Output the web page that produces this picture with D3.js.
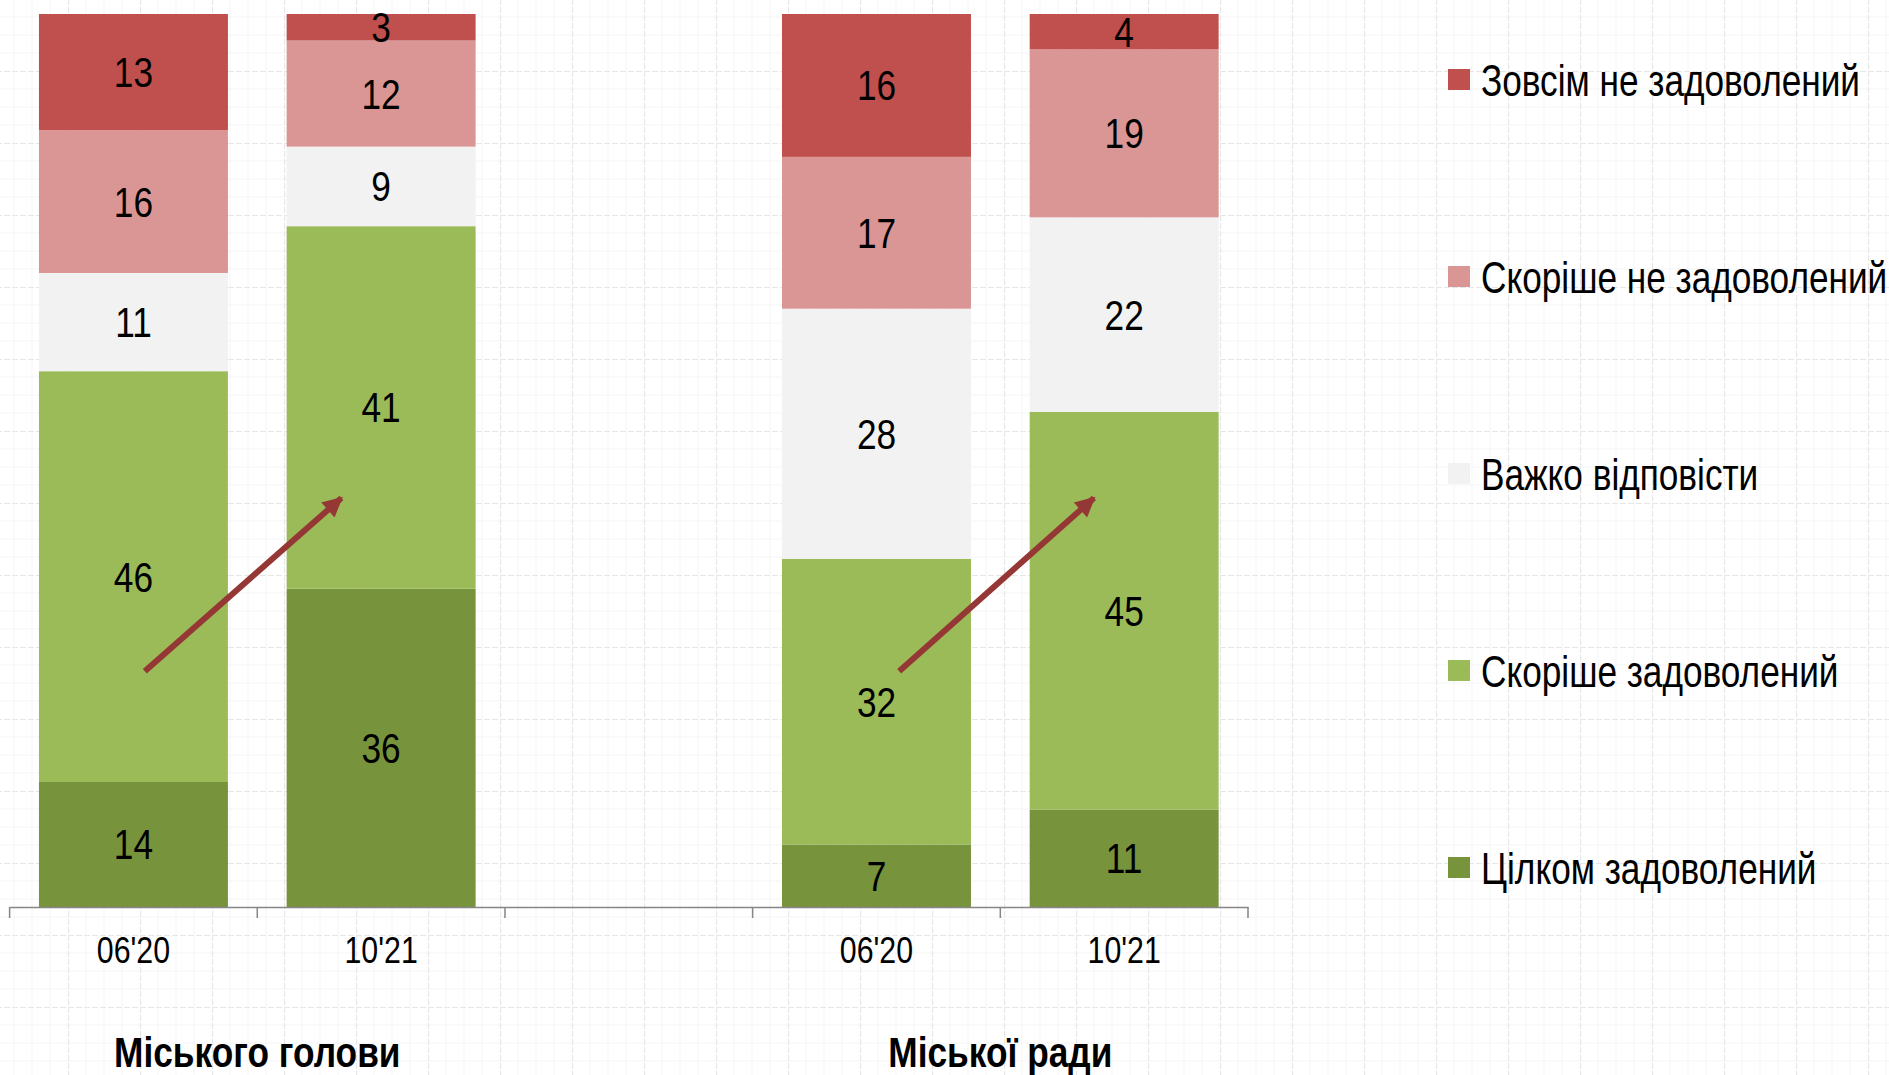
<!DOCTYPE html>
<html>
<head>
<meta charset="utf-8">
<script src="https://cdn.jsdelivr.net/npm/d3@7"></script>
<style>
  body { margin: 0; background: #fff; }
  svg text { font-family: "Liberation Sans Narrow", "Arial Narrow", "Liberation Sans", Arial, sans-serif; fill: #000; }
</style>
</head>
<body>
<svg id="chart" width="1889" height="1075"></svg>
<script>
// --- data ---
var groups = ["Міського голови", "Міської ради"];
var periods = ["06'20", "10'21"];
var seriesNames = ["Цілком задоволений", "Скоріше задоволений", "Важко відповісти", "Скоріше не задоволений", "Зовсім не задоволений"];
var seriesColors = ["#77933c", "#9bbb59", "#f2f2f2", "#d99694", "#c0504d"];

// values per bar: голови 06'20, голови 10'21, ради 06'20, ради 10'21
var fullySatisfied = [14, 36, 7, 11];
var ratherSatisfied = [46, 41, 32, 45];
var hardToSay = [11, 9, 28, 22];
var ratherNotSatisfied = [16, 12, 17, 19];
var notSatisfied = [13, 3, 16, 4];

// arrows: from bar -> to bar, positions as share of bar width / share of height
var arrows = [
	{ from: 0, to: 1, fx0: 0.56, y0: 0.264, fx1: 0.29, y1: 0.458 },
	{ from: 2, to: 3, fx0: 0.62, y0: 0.264, fx1: 0.34, y1: 0.458 }
];

var svg = d3.select("#chart");
var W = 1889, H = 1075;
var NARROW = 0.82;	// no narrow font installed, squeeze the regular one

function narrow(sel, tx, ty, k) {
	sel.attr("x", 0).attr("y", 0)
		.attr("transform", function (d, i) {
			return "translate(" + tx(d, i) + "," + ty(d, i) + ") scale(" + (k || NARROW) + ",1)";
		});
}

// faint paper grid in the background
var defs = svg.append("defs");
var pat = defs.append("pattern")
	.attr("id", "paper")
	.attr("patternUnits", "userSpaceOnUse")
	.attr("width", 72).attr("height", 72)
	.attr("x", -4).attr("y", -1);
pat.append("rect").attr("width", 72).attr("height", 72).attr("fill", "#fff");
[18, 36, 54].forEach(function (p) {
	pat.append("path").attr("d", "M" + p + ",0V72M0," + p + "H72")
		.attr("stroke", "#f5f5f5").attr("stroke-width", 1);
});
pat.append("path").attr("d", "M0.5,0V72M0,0.5H72")
	.attr("stroke", "#e6e6e6").attr("stroke-width", 1.2).attr("stroke-dasharray", "6,2");
svg.append("rect").attr("width", W).attr("height", H).attr("fill", "url(#paper)");

defs.append("marker")
	.attr("id", "head")
	.attr("viewBox", "0 0 10 10")
	.attr("refX", 9).attr("refY", 5)
	.attr("markerUnits", "userSpaceOnUse")
	.attr("markerWidth", 23).attr("markerHeight", 20)
	.attr("orient", "auto")
	.append("path")
	.attr("d", "M0,0L10,5L0,10z")
	.attr("fill", "#953735");

// build rows
var keys = [];
var rows = [];
var labelOf = {};
groups.forEach(function (g, gi) {
	if (gi > 0) keys.push("gap" + gi);
	periods.forEach(function (p, pi) {
		var idx = gi * periods.length + pi;
		var k = g + "|" + p;
		keys.push(k);
		labelOf[k] = p;
		rows.push({
			key: k,
			s0: fullySatisfied[idx],
			s1: ratherSatisfied[idx],
			s2: hardToSay[idx],
			s3: ratherNotSatisfied[idx],
			s4: notSatisfied[idx]
		});
	});
});

var stack = d3.stack()
	.keys(["s0", "s1", "s2", "s3", "s4"])
	.offset(d3.stackOffsetExpand);
var layers = stack(rows);

var x = d3.scaleBand()
	.domain(keys)
	.range([9.6, 1248])
	.paddingInner(0.237)
	.paddingOuter(0.1185);

var y = d3.scaleLinear()
	.domain([0, 1])
	.range([907, 14]);

// bars
var layer = svg.selectAll("g.layer")
	.data(layers)
	.enter().append("g")
	.attr("class", "layer")
	.attr("fill", function (d, i) { return seriesColors[i]; });

layer.selectAll("rect")
	.data(function (d) { return d; })
	.enter().append("rect")
	.attr("x", function (d) { return x(d.data.key); })
	.attr("width", x.bandwidth())
	.attr("y", function (d) { return y(d[1]); })
	.attr("height", function (d) { return y(d[0]) - y(d[1]); });

// value labels
layer.selectAll("text")
	.data(function (d) { var s = d.key; return d.map(function (v) { return { v: v, val: v.data[s] }; }); })
	.enter().append("text")
	.attr("text-anchor", "middle")
	.attr("font-size", 43)
	.text(function (d) { return d.val; })
	.call(narrow,
		function (d) { return x(d.v.data.key) + x.bandwidth() / 2; },
		function (d) { return (y(d.v[0]) + y(d.v[1])) / 2 + 15; });

// x axis
var axis = d3.axisBottom(x)
	.tickSize(0)
	.tickPadding(45)
	.tickFormat(function (k) { return labelOf[k] || ""; });

var axisG = svg.append("g")
	.attr("transform", "translate(0,907)")
	.call(axis);
axisG.select(".domain").attr("stroke", "#868686").attr("stroke-width", 1.5);
axisG.selectAll(".tick text")
	.attr("font-size", 37)
	.attr("dy", "0.3em")
	.attr("fill", "#000")
	.attr("transform", "scale(" + NARROW + ",1)");

// category boundary ticks (Excel style, between the bars)
var bounds = d3.range(keys.length + 1).map(function (i) { return x.range()[0] + i * x.step(); });
axisG.selectAll("line.sep")
	.data(bounds)
	.enter().append("line")
	.attr("class", "sep")
	.attr("x1", function (d) { return d; })
	.attr("x2", function (d) { return d; })
	.attr("y1", 0).attr("y2", 11)
	.attr("stroke", "#868686").attr("stroke-width", 1.5);

// group labels
svg.selectAll("text.group")
	.data(groups)
	.enter().append("text")
	.attr("class", "group")
	.attr("text-anchor", "middle")
	.attr("font-size", 43)
	.attr("font-weight", "bold")
	.text(function (g) { return g; })
	.call(narrow,
		function (g) {
			var first = x(g + "|" + periods[0]);
			var last = x(g + "|" + periods[periods.length - 1]) + x.bandwidth();
			return (first + last) / 2;
		},
		function () { return 1067; });

// arrows
svg.selectAll("line.arrow")
	.data(arrows)
	.enter().append("line")
	.attr("class", "arrow")
	.attr("x1", function (a) { return x(rows[a.from].key) + a.fx0 * x.bandwidth(); })
	.attr("y1", function (a) { return y(a.y0); })
	.attr("x2", function (a) { return x(rows[a.to].key) + a.fx1 * x.bandwidth(); })
	.attr("y2", function (a) { return y(a.y1); })
	.attr("stroke", "#953735")
	.attr("stroke-width", 6)
	.attr("marker-end", "url(#head)");

// legend (top entry = top segment)
var legend = svg.append("g").attr("transform", "translate(1448,80)");
var legendItems = seriesNames.map(function (n, i) { return { name: n, color: seriesColors[i] }; }).reverse();
var li = legend.selectAll("g")
	.data(legendItems)
	.enter().append("g")
	.attr("transform", function (d, i) { return "translate(0," + i * 197 + ")"; });
li.append("rect")
	.attr("y", -11).attr("width", 22).attr("height", 21)
	.attr("fill", function (d) { return d.color; });
li.append("text")
	.attr("font-size", 44)
	.text(function (d) { return d.name; })
	.call(narrow, function () { return 33; }, function () { return 16; }, 0.8);
</script>
</body>
</html>
